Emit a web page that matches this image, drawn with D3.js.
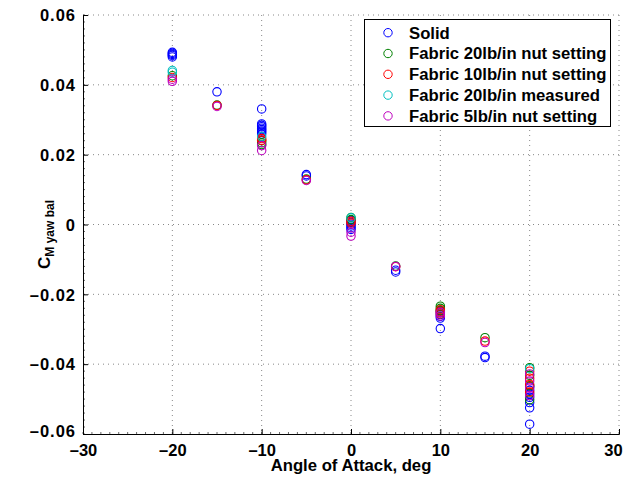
<!DOCTYPE html>
<html>
<head>
<meta charset="utf-8">
<script src="https://cdn.jsdelivr.net/npm/d3@7"></script>
<style>
  body { margin: 0; background: #fff; }
  svg text { font-family: "Liberation Sans", Arial, sans-serif; font-weight: bold; }
</style>
</head>
<body>
<div class="chart"></div>
<script>

// data: [angle, CM]
var solid = [
    [-20, 0.0480], [-20, 0.0484], [-20, 0.0487], [-20, 0.0490], [-20, 0.0493],
    [-15, 0.0380],
    [-10, 0.0331], [-10, 0.0288], [-10, 0.0284], [-10, 0.0280], [-10, 0.0276],
    [-10, 0.0272], [-10, 0.0268], [-10, 0.0264], [-10, 0.0259],
    [-5, 0.0143], [-5, 0.0139],
    [0, 0.0012], [0, 0.0006], [0, 0.0001], [0, -0.0004], [0, -0.0009], [0, -0.0014],
    [5, -0.0131], [5, -0.0136],
    [10, -0.0298], [10, -0.0268], [10, -0.0263], [10, -0.0258], [10, -0.0253], [10, -0.0248],
    [15, -0.0377], [15, -0.0381],
    [20, -0.0572], [20, -0.0525], [20, -0.0510], [20, -0.0495], [20, -0.0485],
    [20, -0.0475], [20, -0.0465]
];
var fabric20nut = [
    [-20, 0.0426], [-15, 0.0342],
    [-10, 0.0240], [-10, 0.0234], [-10, 0.0229],
    [-5, 0.0130],
    [0, 0.0020], [0, 0.0014],
    [5, -0.0119],
    [10, -0.0234], [10, -0.0240], [10, -0.0246],
    [15, -0.0324],
    [20, -0.0410], [20, -0.0432], [20, -0.0462], [20, -0.0502]
];
var fabric10nut = [
    [-20, 0.0421], [-15, 0.0341],
    [-10, 0.0246], [-10, 0.0241],
    [-5, 0.0128],
    [0, 0.0009], [0, 0.0004],
    [5, -0.0121],
    [10, -0.0244], [10, -0.0250], [10, -0.0256],
    [15, -0.0334],
    [20, -0.0420], [20, -0.0440], [20, -0.0458], [20, -0.0480]
];
var fabric20meas = [
    [-20, 0.0441], [-20, 0.0436],
    [-10, 0.0252],
    [0, 0.0019],
    [20, -0.0413]
];
var fabric5nut = [
    [-20, 0.0410], [-20, 0.0416], [-15, 0.0338],
    [-10, 0.0212], [-10, 0.0226],
    [-5, 0.0126],
    [0, -0.0033], [0, -0.0022],
    [5, -0.0120],
    [10, -0.0262], [10, -0.0252],
    [15, -0.0338],
    [20, -0.0428], [20, -0.0448], [20, -0.0468], [20, -0.0490]
];

var seriesNames = ["Solid", "Fabric 20lb/in nut setting", "Fabric 10lb/in nut setting",
    "Fabric 20lb/in measured", "Fabric 5lb/in nut setting"];
var seriesColors = ["#0000ff", "#008000", "#ff0000", "#00bfbf", "#bf00bf"];
var seriesData = [solid, fabric20nut, fabric10nut, fabric20meas, fabric5nut];

var xTicks = [-30, -20, -10, 0, 10, 20, 30];
var yTicks = [-0.06, -0.04, -0.02, 0, 0.02, 0.04, 0.06];

var width = 626;
var height = 477;
var plotLeft = 83, plotRight = 619, plotTop = 15, plotBottom = 434;

var svg = d3.select('.chart')
    .append('svg')
    .attr('width', width)
    .attr('height', height);

var scaleX = d3.scaleLinear().domain([-30, 30]).range([plotLeft, plotRight]);
var scaleY = d3.scaleLinear().domain([-0.06, 0.06]).range([plotBottom, plotTop]);

// dotted grid
svg.append('g').selectAll('line')
    .data(xTicks.slice(1))
    .enter().append('line')
    .attr('x1', d => scaleX(d)).attr('x2', d => scaleX(d))
    .attr('y1', plotTop).attr('y2', plotBottom)
    .attr('stroke', '#888').attr('stroke-width', 1)
    .attr('stroke-dasharray', '1,4');

svg.append('g').selectAll('line')
    .data(yTicks.slice(1))
    .enter().append('line')
    .attr('x1', plotLeft).attr('x2', plotRight)
    .attr('y1', d => scaleY(d)).attr('y2', d => scaleY(d))
    .attr('stroke', '#888').attr('stroke-width', 1)
    .attr('stroke-dasharray', '1,4');

// minor ticks
var minorX = d3.range(-30, 30.01, 1);
var minorY = d3.range(-0.06, 0.0601, 0.002);
svg.append('g').selectAll('line')
    .data(minorX)
    .enter().append('line')
    .attr('x1', d => scaleX(d)).attr('x2', d => scaleX(d))
    .attr('y1', plotBottom).attr('y2', plotBottom - 2)
    .attr('stroke', '#000').attr('stroke-width', 0.6);
svg.append('g').selectAll('line')
    .data(minorY)
    .enter().append('line')
    .attr('x1', plotLeft).attr('x2', plotLeft + 2)
    .attr('y1', d => scaleY(d)).attr('y2', d => scaleY(d))
    .attr('stroke', '#000').attr('stroke-width', 0.6);

var axisX = d3.axisBottom(scaleX).tickValues(xTicks)
    .tickSize(-5).tickPadding(8)
    .tickFormat(d => d < 0 ? '\u2013' + Math.abs(d) : d);
var axisY = d3.axisLeft(scaleY).tickValues(yTicks)
    .tickSize(-5).tickPadding(7)
    .tickFormat(d => d == 0 ? '0' : (d < 0 ? '\u2013' : '') + Math.abs(d).toFixed(2));

var gx = svg.append('g')
    .attr('transform', 'translate(0,' + plotBottom + ')')
    .call(axisX);
var gy = svg.append('g')
    .attr('transform', 'translate(' + plotLeft + ',0)')
    .call(axisY);

[gx, gy].forEach(g => {
    g.select('.domain').attr('stroke', '#000').attr('stroke-width', 1);
    g.selectAll('.tick line').attr('stroke', '#000');
    g.selectAll('.tick text')
        .attr('fill', '#000')
        .style('font-size', '16.5px')
        .style('font-weight', 'bold');
});
gx.selectAll('.tick text').attr('dy', '0.85em');
// keep the last x label inside the window
gx.selectAll('.tick text').filter(d => d == 30).attr('dx', -6);
gy.selectAll('.tick text').attr('dy', '0.35em').style('letter-spacing', '1px');
// bottom y label sits a little higher, like the reference
gy.selectAll('.tick text').filter(d => d == -0.06).attr('dy', '0.15em');

// markers
seriesData.forEach((data, i) => {
    svg.append('g').selectAll('circle')
        .data(data)
        .enter().append('circle')
        .attr('cx', d => scaleX(d[0]))
        .attr('cy', d => scaleY(d[1]))
        .attr('r', 4.2)
        .attr('fill', 'none')
        .attr('stroke', seriesColors[i])
        .attr('stroke-width', 1.1);
});

// legend
var legend = svg.append('g');
legend.append('rect')
    .attr('x', 364.5).attr('y', 19.5)
    .attr('width', 246).attr('height', 107)
    .attr('fill', '#fff').attr('stroke', '#000').attr('stroke-width', 1);

seriesNames.forEach((name, i) => {
    var yy = 32.7 + i * 20.8;
    legend.append('circle')
        .attr('cx', 388).attr('cy', yy).attr('r', 4.2)
        .attr('fill', 'none').attr('stroke', seriesColors[i]);
    legend.append('text')
        .attr('x', 409).attr('y', yy)
        .attr('dy', '0.35em')
        .style('font-size', '16.7px')
        .text(name);
});

// axis labels
svg.append('text')
    .attr('x', (plotLeft + plotRight) / 2)
    .attr('y', 471)
    .style('text-anchor', 'middle')
    .style('font-size', '16.7px')
    .text('Angle of Attack, deg');

var yl = svg.append('text')
    .attr('transform', 'translate(50,' + ((plotTop + plotBottom) / 2 + 10) + ') rotate(-90)')
    .style('text-anchor', 'middle')
    .style('font-size', '17px');
yl.append('tspan').text('C');
yl.append('tspan').attr('dy', 4).style('font-size', '12px').text('M yaw bal');

</script>
</body>
</html>
